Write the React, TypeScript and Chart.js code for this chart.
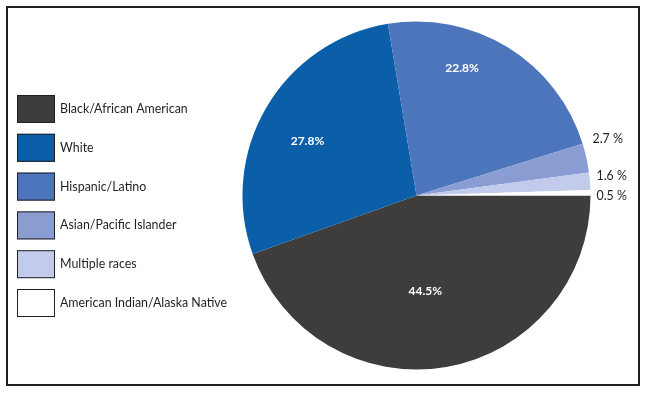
import React, { useEffect, useRef } from "react";
import { Chart, registerables } from "chart.js";

Chart.register(...registerables);

const categories = [
  "Black/African American",
  "White",
  "Hispanic/Latino",
  "Asian/Pacific Islander",
  "Multiple races",
  "American Indian/Alaska Native",
];
const values = [44.5, 27.8, 22.8, 2.7, 1.6, 0.5];
const valueLabels = ["44.5%", "27.8%", "22.8%", "2.7 %", "1.6 %", "0.5 %"];
const colors = ["#3f3d3c", "#0b5fa8", "#4c75bb", "#8a9dd3", "#c3cbed", "#ffffff"];

// label placement: inside labels use [radiusFraction, angleOffsetDeg]; outside use [dx, dy]
const insidePlacement: [number, number][] = [
  [0.55, 4.5],
  [0.7, -4],
  [0.78, -12],
];
const outsidePlacement: [number, number][] = [
  [2, -19],
  [6, -5.5],
  [6, 3],
];

const INK = "#231f20";
const FONT = "Lato, 'Open Sans', sans-serif";

const framePlugin = {
  id: "frameAndLegend",
  afterDraw(chart: any) {
    const ctx = chart.ctx;
    ctx.save();
    // frame
    ctx.strokeStyle = INK;
    ctx.lineWidth = 2;
    ctx.strokeRect(7, 7, 632, 378);
    // legend
    const labels = chart.data.labels as string[];
    const bg = chart.data.datasets[0].backgroundColor as string[];
    ctx.font = `12.4px ${FONT}`;
    ctx.textBaseline = "middle";
    ctx.textAlign = "left";
    labels.forEach((lab, i) => {
      const y = 95 + i * 38.8;
      ctx.fillStyle = bg[i];
      ctx.fillRect(17, y, 38, 28);
      ctx.lineWidth = 1;
      ctx.strokeStyle = INK;
      ctx.strokeRect(17.5, y + 0.5, 37, 27);
      ctx.fillStyle = INK;
      ctx.fillText(lab, 60, y + 14);
    });
    // value labels
    const meta = chart.getDatasetMeta(0);
    meta.data.forEach((arc: any, i: number) => {
      const p = arc.getProps(["x", "y", "startAngle", "endAngle", "outerRadius"], true);
      const mid = (p.startAngle + p.endAngle) / 2;
      if (i < insidePlacement.length) {
        const [rf, off] = insidePlacement[i];
        const a = mid + (off * Math.PI) / 180;
        const x = p.x + Math.cos(a) * p.outerRadius * rf;
        const y = p.y + Math.sin(a) * p.outerRadius * rf;
        ctx.font = `bold 12px ${FONT}`;
        ctx.fillStyle = "#ffffff";
        ctx.textAlign = "center";
        ctx.fillText(valueLabels[i], x, y);
      } else {
        const [dx, dy] = outsidePlacement[i - insidePlacement.length];
        const x = p.x + p.outerRadius + dx;
        const y = p.y + Math.sin(mid) * p.outerRadius + dy;
        ctx.font = `12.4px ${FONT}`;
        ctx.fillStyle = INK;
        ctx.textAlign = "left";
        ctx.fillText(valueLabels[i], x, y);
      }
    });
    ctx.restore();
  },
};

export default function App() {
  const ref = useRef<HTMLCanvasElement>(null);
  useEffect(() => {
    document.body.style.margin = "0";
    const chart = new Chart(ref.current!, {
      type: "pie",
      data: {
        labels: categories,
        datasets: [
          {
            data: values,
            backgroundColor: colors,
            borderWidth: 0,
          },
        ],
      },
      options: {
        responsive: false,
        animation: false,
        rotation: 90,
        layout: { padding: { left: 242.5, right: 55.5, top: 21.5, bottom: 23.5 } },
        plugins: {
          legend: { display: false },
          tooltip: { enabled: false },
        },
      },
      plugins: [framePlugin],
    });
    return () => chart.destroy();
  }, []);
  return (
    <div style={{ position: "absolute", left: 0, top: 0, width: 646, height: 393, background: "#fff" }}>
      <canvas ref={ref} width={646} height={393} style={{ width: 646, height: 393 }} />
    </div>
  );
}
